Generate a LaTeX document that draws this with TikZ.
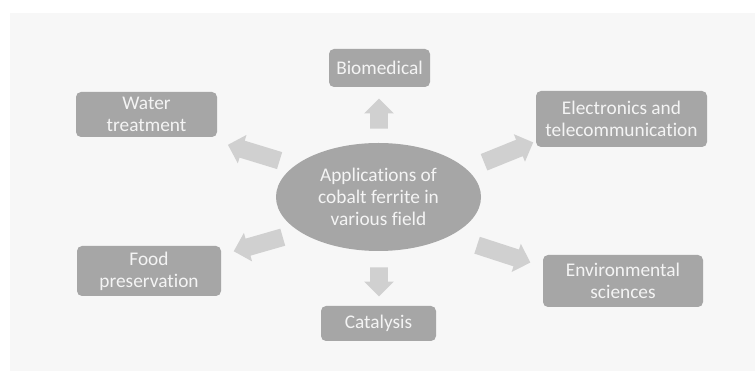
\documentclass[tikz,border=0pt]{standalone}
\usepackage{fontspec}
\setmainfont[Ligatures={NoCommon}]{Carlito}
\usetikzlibrary{shapes.geometric,shapes.arrows}
\definecolor{panelgray}{HTML}{F7F7F7}
\definecolor{boxgray}{HTML}{A6A6A6}
\definecolor{arrowgray}{HTML}{D0D0D0}
\definecolor{textwhite}{HTML}{F4F4F4}
\begin{document}
\begin{tikzpicture}[
		fieldbox/.style={rectangle, rounded corners=0.1cm, fill=boxgray, text=textwhite, align=center, inner sep=0pt, font=\fontsize{11}{12.6}\selectfont},
		hub/.style={ellipse, fill=boxgray, text=textwhite, align=center, inner sep=0pt, minimum width=4.1cm, minimum height=2.16cm, font=\fontsize{11}{12.6}\selectfont},
		blockarrow/.style={single arrow, fill=arrowgray, inner xsep=0pt, inner ysep=0.17cm, single arrow head extend=0.12cm, single arrow tip angle=90}
	]
		\useasboundingbox (0,0) rectangle (15.1,7.42);
		\fill[panelgray] (0.2,0) rectangle (15.1,7.16);
		\node[hub] (centre) at (7.57,3.48) {Applications of\\cobalt ferrite in\\various field};
		\node[fieldbox, minimum width=2.02cm, minimum height=0.76cm] (bio) at (7.59,6.06) {Biomedical};
		\node[fieldbox, minimum width=2.82cm, minimum height=0.90cm] (water) at (2.93,5.13) {Water\\treatment};
		\node[fieldbox, minimum width=3.42cm, minimum height=1.12cm] (elec) at (12.43,5.04) {Electronics and\\telecommunication};
		\node[fieldbox, minimum width=2.88cm, minimum height=1.00cm] (food) at (2.98,2.00) {Food\\preservation};
		\node[fieldbox, minimum width=3.20cm, minimum height=1.04cm] (env) at (12.46,1.80) {Environmental\\sciences};
		\node[fieldbox, minimum width=2.30cm, minimum height=0.70cm] (cat) at (7.57,0.95) {Catalysis};
		% block arrows from the centre
		\node[blockarrow, minimum height=0.60cm, rotate=90] (toBio) at (7.58,5.06) {};
		\node[blockarrow, minimum height=0.58cm, rotate=-90] (toCat) at (7.58,1.87) {};
		\node[blockarrow, minimum height=1.08cm, rotate=163] (toWater) at (5.16,4.34) {};
		\node[blockarrow, minimum height=1.06cm, rotate=22] (toElec) at (10.09,4.34) {};
		\node[blockarrow, minimum height=1.02cm, rotate=196] (toFood) at (5.25,2.56) {};
		\node[blockarrow, minimum height=1.12cm, rotate=-18] (toEnv) at (9.99,2.37) {};
	\end{tikzpicture}
\end{document}
